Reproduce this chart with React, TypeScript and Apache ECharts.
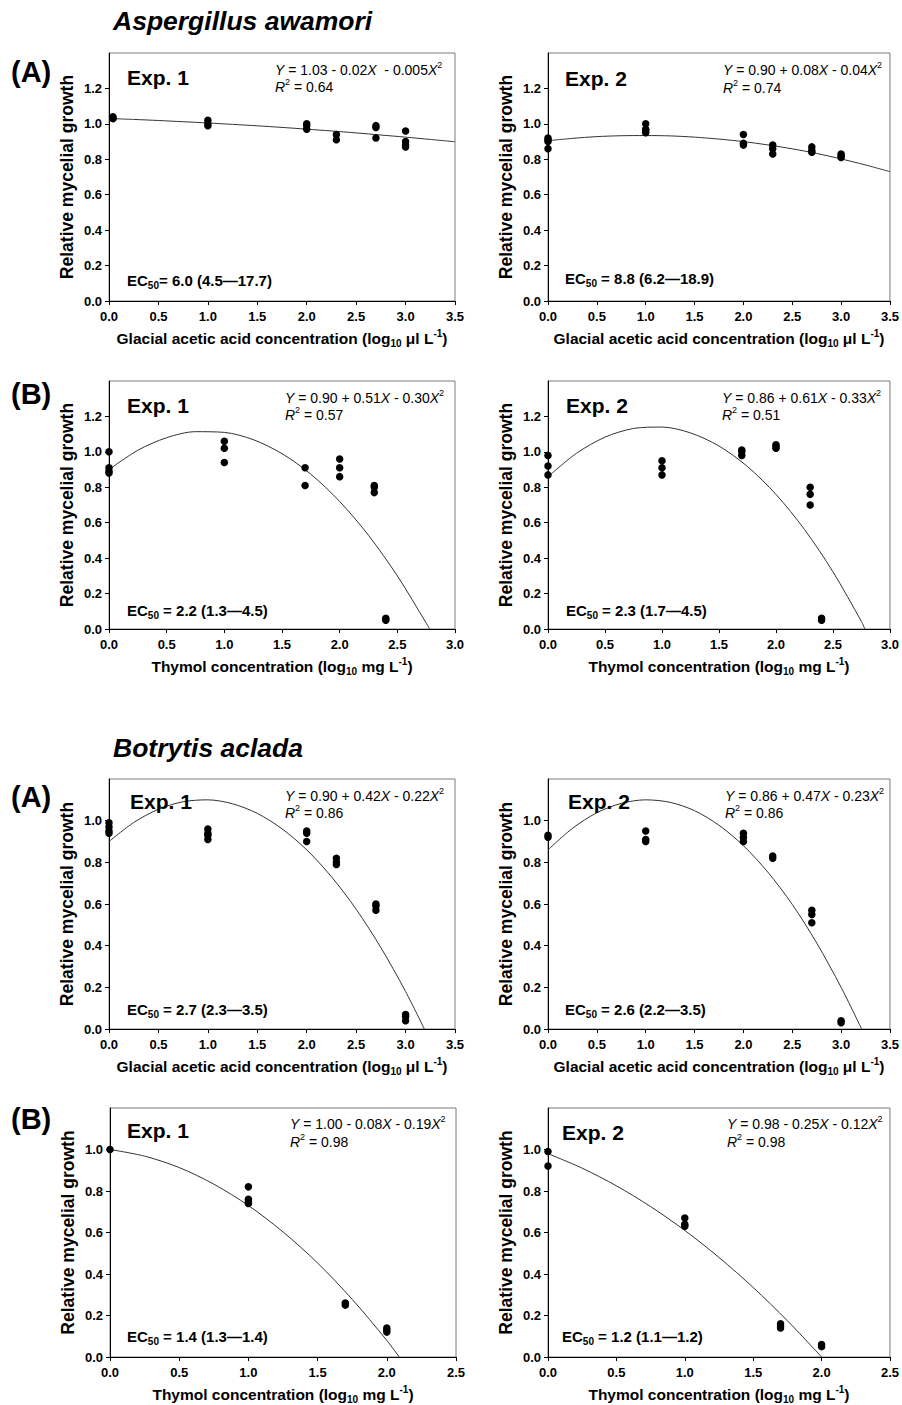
import React, { useEffect, useRef } from "react";
import * as echarts from "echarts";

const FONT = '"Liberation Sans", Arial, Helvetica, sans-serif';

// ---------- Data: observed points [log10 concentration, relative growth] ----------
const aaAceticExp1 = [[0.04,1.04],[0.04,1.03],[0.04,1.03],[1,1.02],[1,1.0],[1,0.99],[2,1.0],[2,0.99],[2,0.97],[2.3,0.94],[2.3,0.91],[2.7,0.99],[2.7,0.98],[2.7,0.92],[3,0.96],[3,0.9],[3,0.88],[3,0.87]];
const aaAceticExp2 = [[0,0.92],[0,0.91],[0,0.9],[0,0.86],[1,1.0],[1,0.97],[1,0.96],[1,0.95],[2,0.94],[2,0.89],[2,0.88],[2.3,0.88],[2.3,0.86],[2.3,0.83],[2.7,0.87],[2.7,0.85],[2.7,0.84],[3,0.83],[3,0.82],[3,0.81]];
const aaThymolExp1 = [[0,1.0],[0,0.91],[0,0.89],[0,0.88],[1,1.06],[1,1.02],[1,0.94],[1.7,0.91],[1.7,0.81],[2,0.96],[2,0.91],[2,0.86],[2.3,0.81],[2.3,0.8],[2.3,0.77],[2.4,0.06],[2.4,0.05]];
const aaThymolExp2 = [[0,0.98],[0,0.92],[0,0.87],[1,0.95],[1,0.91],[1,0.87],[1.7,1.01],[1.7,1.0],[1.7,0.98],[2,1.04],[2,1.03],[2,1.02],[2.3,0.8],[2.3,0.76],[2.3,0.7],[2.4,0.06],[2.4,0.05]];
const baAceticExp1 = [[0,0.99],[0,0.97],[0,0.95],[0,0.94],[1,0.96],[1,0.94],[1,0.93],[1,0.91],[2,0.95],[2,0.94],[2,0.9],[2.3,0.82],[2.3,0.8],[2.3,0.79],[2.7,0.6],[2.7,0.59],[2.7,0.57],[3,0.07],[3,0.06],[3,0.04]];
const baAceticExp2 = [[0,0.93],[0,0.92],[1,0.95],[1,0.91],[1,0.9],[2,0.94],[2,0.92],[2,0.9],[2.3,0.83],[2.3,0.82],[2.7,0.57],[2.7,0.55],[2.7,0.51],[3,0.04],[3,0.03]];
const baThymolExp1 = [[0,1.0],[1,0.82],[1,0.76],[1,0.75],[1,0.74],[1.7,0.26],[1.7,0.25],[2,0.14],[2,0.13],[2,0.12]];
const baThymolExp2 = [[0,0.99],[0,0.92],[1,0.67],[1,0.64],[1,0.63],[1.7,0.16],[1.7,0.15],[1.7,0.14],[2,0.06],[2,0.05]];

// ---------- Fitted curves ----------
const fitX35 = [0,0.25,0.5,0.75,1,1.25,1.5,1.75,2,2.25,2.5,2.75,3,3.25,3.5];
const aaAceticExp1Fit = [1.03,1.025,1.019,1.012,1.005,0.997,0.989,0.98,0.97,0.96,0.949,0.937,0.925,0.912,0.899];
const aaAceticExp2Fit = [0.905,0.918,0.928,0.933,0.934,0.932,0.925,0.914,0.9,0.881,0.859,0.833,0.802,0.768,0.73];
const aaThymolExp1FitX = [0,0.25,0.5,0.75,1,1.25,1.5,1.75,2,2.25,2.5,2.75,2.78];
const aaThymolExp1Fit = [0.9,1.009,1.08,1.114,1.11,1.069,0.99,0.874,0.72,0.529,0.3,0.034,0];
const aaThymolExp2FitX = [0,0.25,0.5,0.75,1,1.25,1.5,1.75,2,2.25,2.5,2.75,2.78];
const aaThymolExp2Fit = [0.86,0.992,1.083,1.132,1.14,1.107,1.033,0.917,0.76,0.562,0.323,0.042,0];
const baAceticExp1FitX = [0,0.25,0.5,0.75,1,1.25,1.5,1.75,2,2.25,2.5,2.75,3,3.19];
const baAceticExp1Fit = [0.9,0.991,1.055,1.091,1.1,1.081,1.035,0.961,0.86,0.731,0.575,0.391,0.18,0];
const baAceticExp2FitX = [0,0.25,0.5,0.75,1,1.25,1.5,1.75,2,2.25,2.5,2.75,3,3.21];
const baAceticExp2Fit = [0.86,0.963,1.038,1.083,1.1,1.088,1.048,0.978,0.88,0.753,0.598,0.413,0.2,0];
const baThymolExp1FitX = [0,0.25,0.5,0.75,1,1.25,1.5,1.75,2,2.09];
const baThymolExp1Fit = [1.0,0.968,0.913,0.833,0.73,0.603,0.453,0.278,0.08,0];
const baThymolExp2FitX = [0,0.25,0.5,0.75,1,1.25,1.5,1.75,2];
const baThymolExp2Fit = [0.98,0.91,0.825,0.725,0.61,0.48,0.335,0.175,0];

// ---------- Texts ----------
const equations = [
  ["1.03 - 0.02", "  - 0.005", "0.64"],
  ["0.90 + 0.08", " - 0.04", "0.74"],
  ["0.90 + 0.51", " - 0.30", "0.57"],
  ["0.86 + 0.61", " - 0.33", "0.51"],
  ["0.90 + 0.42", " - 0.22", "0.86"],
  ["0.86 + 0.47", " - 0.23", "0.86"],
  ["1.00 - 0.08", " - 0.19", "0.98"],
  ["0.98 - 0.25", " - 0.12", "0.98"],
];
const ec50Texts = [
  "= 6.0 (4.5\u201417.7)",
  " = 8.8 (6.2\u201418.9)",
  " = 2.2 (1.3\u20144.5)",
  " = 2.3 (1.7\u20144.5)",
  " = 2.7 (2.3\u20143.5)",
  " = 2.6 (2.2\u20143.5)",
  " = 1.4 (1.3\u20141.4)",
  " = 1.2 (1.1\u20141.2)",
];
const expLabels = ["Exp. 1", "Exp. 2", "Exp. 1", "Exp. 2", "Exp. 1", "Exp. 2", "Exp. 1", "Exp. 2"];
const aceticName = "{n|Glacial acetic acid concentration (log}{sub|10}{n| \u03bcl L}{sup|-1}{n|)}";
const thymolName = "{n|Thymol concentration (log}{sub|10}{n| mg L}{sup|-1}{n|)}";
const yName = "Relative mycelial growth";

// ---------- Layout ----------
const panels = [
  { grid: { left: 109, top: 53, width: 346, height: 248 }, xMax: 3.5, yMax: 1.4, xName: aceticName, pts: aaAceticExp1, fx: fitX35, fy: aaAceticExp1Fit, exp: [127, 77], eq: [275, 70, 87], ec: [127, 280] },
  { grid: { left: 548, top: 53, width: 345, height: 248 }, xMax: 3.5, yMax: 1.4, xName: aceticName, pts: aaAceticExp2, fx: fitX35, fy: aaAceticExp2Fit, exp: [565, 78], eq: [723, 70, 88], ec: [565, 278] },
  { grid: { left: 109, top: 381, width: 346, height: 248 }, xMax: 3.0, yMax: 1.4, xName: thymolName, pts: aaThymolExp1, fx: aaThymolExp1FitX, fy: aaThymolExp1Fit, exp: [127, 405], eq: [285, 398, 415], ec: [127, 610] },
  { grid: { left: 548, top: 381, width: 345, height: 248 }, xMax: 3.0, yMax: 1.4, xName: thymolName, pts: aaThymolExp2, fx: aaThymolExp2FitX, fy: aaThymolExp2Fit, exp: [566, 405], eq: [722, 398, 415], ec: [566, 610] },
  { grid: { left: 109, top: 779, width: 346, height: 250 }, xMax: 3.5, yMax: 1.2, xName: aceticName, pts: baAceticExp1, fx: baAceticExp1FitX, fy: baAceticExp1Fit, exp: [130, 801], eq: [285, 796, 813], ec: [127, 1009] },
  { grid: { left: 548, top: 779, width: 345, height: 250 }, xMax: 3.5, yMax: 1.2, xName: aceticName, pts: baAceticExp2, fx: baAceticExp2FitX, fy: baAceticExp2Fit, exp: [568, 801], eq: [725, 796, 813], ec: [565, 1009] },
  { grid: { left: 110, top: 1108, width: 346, height: 249 }, xMax: 2.5, yMax: 1.2, xName: thymolName, pts: baThymolExp1, fx: baThymolExp1FitX, fy: baThymolExp1Fit, exp: [127, 1130], eq: [290, 1124, 1142], ec: [127, 1336] },
  { grid: { left: 548, top: 1108, width: 346, height: 249 }, xMax: 2.5, yMax: 1.2, xName: thymolName, pts: baThymolExp2, fx: baThymolExp2FitX, fy: baThymolExp2Fit, exp: [562, 1132], eq: [727, 1124, 1142], ec: [562, 1336] },
];

const eqRich = {
  n: { fontSize: 14, fontFamily: FONT, color: "#111", lineHeight: 20 },
  i: { fontSize: 14, fontFamily: FONT, fontStyle: "italic", color: "#111", lineHeight: 20 },
  sup: { fontSize: 9, fontFamily: FONT, color: "#111", lineHeight: 9, verticalAlign: "top" },
};
const ecRich = {
  n: { fontSize: 15, fontFamily: FONT, fontWeight: "bold", color: "#000", lineHeight: 20 },
  sub: { fontSize: 10, fontFamily: FONT, fontWeight: "bold", color: "#000", lineHeight: 10, verticalAlign: "bottom" },
};
const axisNameRich = {
  n: { fontSize: 15.5, fontFamily: FONT, fontWeight: "bold", color: "#000", lineHeight: 20 },
  sub: { fontSize: 10, fontFamily: FONT, fontWeight: "bold", color: "#000", lineHeight: 10, verticalAlign: "bottom" },
  sup: { fontSize: 10, fontFamily: FONT, fontWeight: "bold", color: "#000", lineHeight: 10, verticalAlign: "top" },
};

function textEl(x: number, y: number, text: string, extra: any) {
  return {
    type: "text",
    z: 10,
    style: Object.assign({ x, y, text, textAlign: "left", textVerticalAlign: "middle", fill: "#000", fontFamily: FONT }, extra),
  };
}

export default function App() {
  const ref = useRef<HTMLDivElement>(null);
  useEffect(() => {
    if (!ref.current) return;
    const chart = echarts.init(ref.current, null, { renderer: "svg" });
    const grid: any[] = [];
    const xAxis: any[] = [];
    const yAxis: any[] = [];
    const series: any[] = [];
    const graphic: any[] = [];

    panels.forEach((p, i) => {
      grid.push({ ...p.grid, show: true, borderColor: "#7a7a7a", borderWidth: 1, backgroundColor: "transparent", containLabel: false });
      xAxis.push({
        type: "value", gridIndex: i, min: 0, max: p.xMax, interval: 0.5,
        axisLine: { show: true, lineStyle: { color: "#000", width: 1 } },
        axisTick: { show: true, length: 4, lineStyle: { color: "#000" } },
        splitLine: { show: false },
        axisLabel: { fontSize: 13, fontWeight: "bold", fontFamily: FONT, color: "#000", margin: 9, formatter: (v: number) => v.toFixed(1) },
        name: p.xName, nameLocation: "middle", nameGap: 27,
        nameTextStyle: { rich: axisNameRich },
      });
      yAxis.push({
        type: "value", gridIndex: i, min: 0, max: p.yMax, interval: 0.2,
        axisLine: { show: true, lineStyle: { color: "#000", width: 1 } },
        axisTick: { show: true, length: 4, lineStyle: { color: "#000" } },
        splitLine: { show: false },
        axisLabel: { fontSize: 13, fontWeight: "bold", fontFamily: FONT, color: "#000", margin: 7, showMaxLabel: false, formatter: (v: number) => v.toFixed(1) },
        name: yName, nameLocation: "middle", nameGap: 33,
        nameTextStyle: { fontSize: 17.5, fontWeight: "bold", fontFamily: FONT, color: "#000" },
      });
      series.push({
        type: "line", xAxisIndex: i, yAxisIndex: i, clip: false, smooth: 0.3, showSymbol: false, symbol: "none",
        lineStyle: { color: "#333", width: 1 },
        data: p.fx.map((x, j) => [x, p.fy[j]]),
        z: 2,
      });
      series.push({
        type: "scatter", xAxisIndex: i, yAxisIndex: i, clip: false, symbol: "circle", symbolSize: 7.5,
        itemStyle: { color: "#000", opacity: 1 },
        data: p.pts,
        z: 3,
      });
      const [ex, ey] = p.exp;
      graphic.push(textEl(ex, ey, expLabels[i], { fontSize: 21, fontWeight: "bold" }));
      const [qx, qy1, qy2] = p.eq;
      const e = equations[i];
      graphic.push(textEl(qx, qy1, `{i|Y}{n| = ${e[0]}}{i|X}{n|${e[1]}}{i|X}{sup|2}`, { rich: eqRich }));
      graphic.push(textEl(qx, qy2, `{i|R}{sup|2}{n| = ${e[2]}}`, { rich: eqRich }));
      const [cx, cy] = p.ec;
      graphic.push(textEl(cx, cy, `{n|EC}{sub|50}{n|${ec50Texts[i]}}`, { rich: ecRich }));
    });

    graphic.push(textEl(113, 21, "Aspergillus awamori", { fontSize: 26.5, fontWeight: "bold", fontStyle: "italic" }));
    graphic.push(textEl(113, 748, "Botrytis aclada", { fontSize: 26.5, fontWeight: "bold", fontStyle: "italic" }));
    graphic.push(textEl(11, 72, "(A)", { fontSize: 29, fontWeight: "bold" }));
    graphic.push(textEl(11, 394, "(B)", { fontSize: 29, fontWeight: "bold" }));
    graphic.push(textEl(11, 797, "(A)", { fontSize: 29, fontWeight: "bold" }));
    graphic.push(textEl(11, 1119, "(B)", { fontSize: 29, fontWeight: "bold" }));

    chart.setOption({
      animation: false,
      backgroundColor: "#fff",
      grid, xAxis, yAxis, series, graphic,
    });
    return () => chart.dispose();
  }, []);
  return <div ref={ref} style={{ position: "absolute", left: 0, top: 0, width: 902, height: 1405 }} />;
}
